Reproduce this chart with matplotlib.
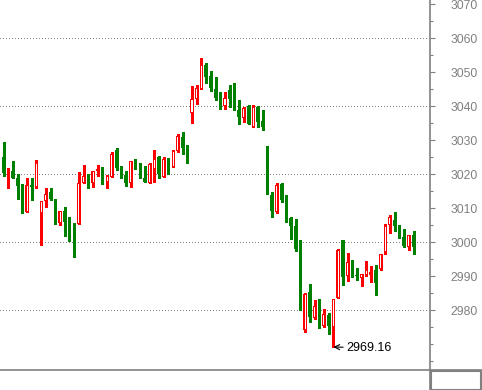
import matplotlib
matplotlib.use("Agg")
import matplotlib.pyplot as plt
from matplotlib.patches import Rectangle
from matplotlib.lines import Line2D
import numpy as np

# OHLC, one entry per candle
opens = [3025.0, 3020.0, 3021.0, 3018.9, 3016.3, 3008.9, 3016.8, 3016.3, 3008.7, 3012.2,
         3014.6, 3012.1, 3005.5, 3009.1, 3005.8, 3003.2, 3005.2, 3017.5, 3019.2, 3017.4,
         3020.8, 3021.6, 3017.8, 3019.1, 3027.2, 3021.0, 3019.8, 3017.5, 3023.7, 3022.1,
         3019.0, 3017.5, 3021.5, 3024.9, 3019.1, 3024.2, 3022.1, 3026.7, 3030.9, 3027.6,
         3038.1, 3042.0, 3045.0, 3052.1, 3048.8, 3044.9, 3042.0, 3040.1, 3044.7, 3042.1,
         3039.0, 3036.6, 3040.0, 3033.9, 3039.8, 3035.6, 3028.2, 3013.8, 3008.9, 3017.1,
         3012.1, 3007.0, 3004.7, 2998.1, 2974.1, 2985.2, 2977.8, 2980.8, 2975.3, 2978.5,
         2974.9, 2983.7, 3000.7, 2989.9, 2994.2, 2990.4, 2989.6, 2990.4, 2990.4, 2991.9,
         2992.1, 2997.0, 3004.9, 3006.6, 3005.1, 3001.5, 2998.7, 3002.2]
highs = [3029.5, 3021.7, 3023.9, 3019.9, 3017.0, 3018.9, 3018.9, 3024.1, 3012.1, 3015.8,
         3016.0, 3012.8, 3009.1, 3010.4, 3007.5, 3005.5, 3020.5, 3022.8, 3019.9, 3021.0,
         3022.7, 3022.0, 3019.6, 3026.4, 3027.8, 3022.5, 3020.8, 3024.0, 3024.5, 3023.2,
         3022.3, 3023.2, 3027.2, 3025.2, 3024.9, 3024.7, 3027.2, 3031.8, 3032.4, 3028.6,
         3045.9, 3046.2, 3054.0, 3052.7, 3050.3, 3048.6, 3044.0, 3044.0, 3046.2, 3046.9,
         3041.8, 3039.6, 3040.3, 3040.3, 3040.0, 3038.8, 3028.2, 3014.6, 3017.5, 3017.5,
         3013.8, 3007.5, 3006.8, 3000.6, 2984.9, 2987.6, 2982.9, 2983.4, 2980.2, 2979.2,
         2983.4, 2998.1, 3000.7, 2996.9, 2994.8, 2992.3, 2990.7, 2994.5, 2992.9, 2993.4,
         2996.6, 3005.4, 3007.9, 3009.0, 3005.1, 3003.8, 3002.2, 3003.4]
lows = [3019.3, 3015.8, 3018.9, 3012.8, 3008.7, 3008.9, 3012.5, 3016.0, 2999.3, 3010.4,
        3012.4, 3005.2, 3005.0, 3001.9, 3000.3, 2995.7, 3005.2, 3017.5, 3015.8, 3016.1,
        3019.3, 3017.1, 3015.9, 3019.1, 3021.3, 3018.8, 3016.4, 3016.1, 3021.6, 3018.8,
        3017.8, 3017.5, 3017.8, 3018.8, 3019.1, 3020.0, 3022.1, 3026.5, 3025.8, 3023.2,
        3035.1, 3040.6, 3044.9, 3046.9, 3044.5, 3041.8, 3039.1, 3039.1, 3039.8, 3039.0,
        3034.7, 3035.4, 3034.7, 3033.9, 3033.9, 3032.9, 3014.1, 3007.5, 3008.6, 3011.9,
        3006.0, 3000.9, 2997.5, 2979.9, 2973.6, 2976.6, 2977.4, 2974.8, 2975.1, 2973.1,
        2969.16, 2983.7, 2987.5, 2988.7, 2989.7, 2988.9, 2987.0, 2990.1, 2988.3, 2984.5,
        2991.9, 2996.6, 3002.8, 3003.4, 3001.2, 2998.7, 2997.8, 2996.6]
closes = [3020.4, 3020.5, 3018.9, 3016.6, 3009.1, 3016.8, 3016.3, 3023.4, 3012.1, 3014.3,
          3012.6, 3005.5, 3009.1, 3005.8, 3003.5, 3002.7, 3017.5, 3019.4, 3017.3, 3020.8,
          3021.6, 3017.4, 3019.3, 3026.0, 3021.8, 3019.8, 3017.5, 3024.0, 3022.5, 3019.3,
          3017.8, 3022.9, 3024.5, 3020.0, 3024.4, 3022.0, 3026.9, 3031.3, 3027.6, 3026.2,
          3042.0, 3045.2, 3052.1, 3048.6, 3045.2, 3042.5, 3040.3, 3042.3, 3042.1, 3039.8,
          3036.9, 3039.3, 3034.7, 3039.8, 3035.4, 3033.9, 3014.8, 3009.1, 3016.8, 3012.4,
          3006.8, 3004.8, 2997.9, 2980.3, 2984.7, 2978.0, 2981.2, 2976.1, 2978.8, 2975.3,
          2983.4, 2997.8, 2989.7, 2994.1, 2991.2, 2989.9, 2990.6, 2991.9, 2991.1, 2987.9,
          2996.6, 3004.8, 3007.4, 3004.6, 3001.5, 2999.0, 3002.2, 2998.7]

low_label = "2969.16"
up_color = "#ff0000"
down_color = "#008000"
grid_levels = [2980, 3000, 3020, 3040, 3060]

fig = plt.figure(figsize=(4.82, 3.90), dpi=100)
ax = fig.add_axes([0, 20 / 390, 430 / 482, 370 / 390])

ymin, ymax = 2962.4, 3071.2
px_y = (ymax - ymin) / 370  # price units per pixel

x = np.arange(len(opens))
o = np.array(opens)
h = np.array(highs)
l = np.array(lows)
c = np.array(closes)
up = c >= o

for lvl in grid_levels:
    ax.axhline(lvl, color="#808080", lw=0.72, ls=(0, (1, 2.5)), zorder=0, antialiased=False)

body_w = 0.7
inner_w = 0.22
for i in x:
    col = up_color if up[i] else down_color
    ax.vlines(i, l[i], h[i], color=col, lw=0.75, zorder=2, antialiased=False)
    bottom = min(o[i], c[i])
    height = max(abs(c[i] - o[i]), px_y)
    ax.add_patch(Rectangle((i - body_w / 2, bottom), body_w, height,
                           facecolor=col, lw=0, zorder=3, antialiased=False))
    if up[i] and height > 2.5 * px_y:
        # hollow rising candle: knock out the inside
        ax.add_patch(Rectangle((i - inner_w / 2, bottom + px_y), inner_w, height - 2 * px_y,
                               facecolor="white", lw=0, zorder=4, antialiased=False))

imin = int(np.argmin(l))
ax.annotate(low_label, xy=(imin, l[imin]), xytext=(9, -0.5), textcoords="offset points",
            ha="left", va="center", fontsize=9, family="Liberation Sans", color="black",
            arrowprops=dict(arrowstyle="->", color="black", lw=0.8, shrinkA=0, shrinkB=0))

ax.set_xlim(-0.743, 90.5)
ax.set_ylim(ymin, ymax)
ax.set_xticks([])
ax.yaxis.tick_right()
ax.set_yticks(np.arange(2980, 3071, 10))
ax.set_yticks(np.arange(2965, 3071, 5), minor=True)
ax.tick_params(axis="y", which="major", length=3.6, width=0.8, color="#808080",
               labelcolor="#808080", labelsize=8.7, pad=11)
ax.tick_params(axis="y", which="minor", length=2, width=0.8, color="#808080")
for lab in ax.get_yticklabels():
    lab.set_family("Liberation Sans")
    lab.set_ha("left")

for s in ["top", "left"]:
    ax.spines[s].set_visible(False)
ax.spines["right"].set_color("#808080")
ax.spines["bottom"].set_color("#808080")
ax.spines["right"].set_linewidth(1.2)
ax.spines["bottom"].set_linewidth(1.2)

# bottom-right box below the price axis
W, H = 482, 390
fig.add_artist(Line2D([430 / W, 430 / W], [0, 20 / H], color="#808080", lw=1.2))
fig.add_artist(Line2D([430 / W, 1], [20 / H, 20 / H], color="#808080", lw=1.2))
fig.add_artist(Rectangle((431 / W, 0), 50 / W, 19 / H, fill=False,
                         edgecolor="#808080", lw=1.5, transform=fig.transFigure))

fig.savefig("out.png", dpi=100)
